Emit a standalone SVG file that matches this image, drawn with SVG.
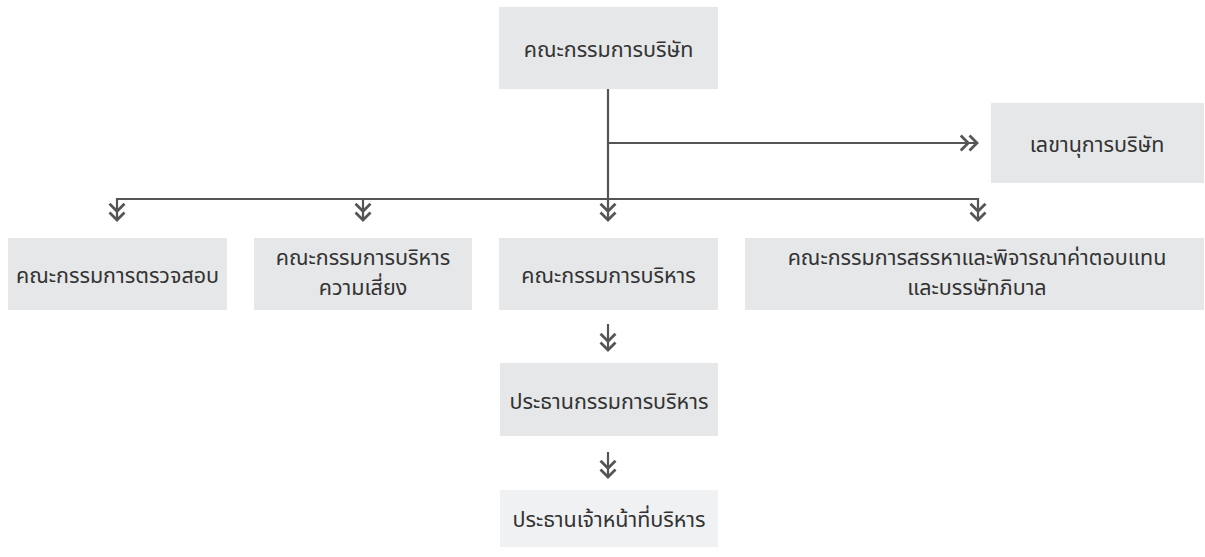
<svg xmlns="http://www.w3.org/2000/svg" width="1205" height="557" viewBox="0 0 1205 557">
<style>
.box{fill:#e6e7e9}
.box2{fill:#f0f1f2}
.t{font-family:"Noto Sans","Noto Sans Thai","DejaVu Sans",sans-serif;font-size:21.5px;fill:#333;text-anchor:middle;dominant-baseline:central}
.c{stroke:#555;stroke-width:2.2;fill:none}
</style>
<defs>
<marker id="dch" markerUnits="userSpaceOnUse" markerWidth="20" markerHeight="20" viewBox="-14 -8 16 16" refX="0" refY="0" orient="auto">
<path d="M-13,-6 L-7,0 L-13,6 M-6,-6 L0,0 L-6,6" fill="none" stroke="#555" stroke-width="2.2"/>
</marker>
</defs>
<rect width="1205" height="557" fill="#fff"/>
<g id="connectors">
<path class="c" d="M608,88 V199"/>
<path class="c" d="M608,143 H977" marker-end="url(#dch)"/>
<path class="c" d="M117,199 H978"/>
<path class="c" d="M117,198 V220" marker-end="url(#dch)"/>
<path class="c" d="M363,198 V220" marker-end="url(#dch)"/>
<path class="c" d="M608,198 V220" marker-end="url(#dch)"/>
<path class="c" d="M978,198 V220" marker-end="url(#dch)"/>
<path class="c" d="M608,324 V350" marker-end="url(#dch)"/>
<path class="c" d="M608,452 V477" marker-end="url(#dch)"/>
</g>
<g id="board"><rect class="box" x="499" y="7" width="219" height="82"/><text class="t" x="608.5" y="48">คณะกรรมการบริษัท</text></g>
<g id="secretary"><rect class="box" x="991" y="103" width="213" height="80"/><text class="t" x="1097" y="143">เลขานุการบริษัท</text></g>
<g id="audit"><rect class="box" x="8" y="238" width="219" height="72"/><text class="t" x="117.5" y="274">คณะกรรมการตรวจสอบ</text></g>
<g id="risk"><rect class="box" x="254" y="238" width="218" height="72"/><text class="t" x="363" y="256">คณะกรรมการบริหาร</text><text class="t" x="363" y="286">ความเสี่ยง</text></g>
<g id="exec"><rect class="box" x="499" y="238" width="219" height="72"/><text class="t" x="608.5" y="274">คณะกรรมการบริหาร</text></g>
<g id="nomination"><rect class="box" x="745" y="238" width="459" height="72"/><text class="t" x="977" y="256">คณะกรรมการสรรหาและพิจารณาค่าตอบแทน</text><text class="t" x="977" y="286">และบรรษัทภิบาล</text></g>
<g id="chairman"><rect class="box" x="500" y="363" width="218" height="73"/><text class="t" x="609" y="400">ประธานกรรมการบริหาร</text></g>
<g id="ceo"><rect class="box2" x="500" y="490" width="218" height="57"/><text class="t" x="609" y="518">ประธานเจ้าหน้าที่บริหาร</text></g>
</svg>
